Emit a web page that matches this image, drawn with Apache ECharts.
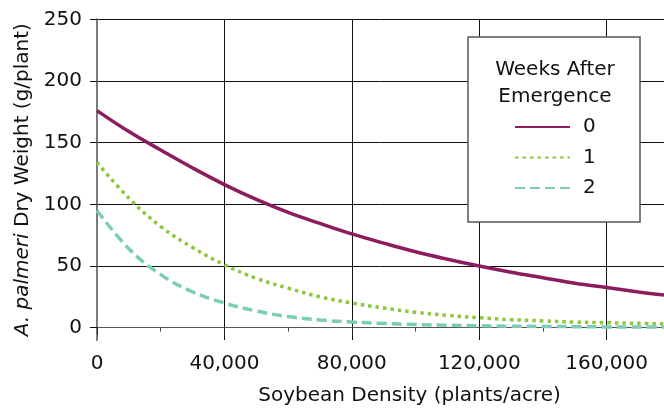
<!DOCTYPE html>
<html>
<head>
<meta charset="utf-8">
<script src="https://cdn.jsdelivr.net/npm/echarts@6/dist/echarts.min.js"></script>
<style>html,body{margin:0;padding:0;background:#fff}#c{width:664px;height:409px}</style>
</head>
<body>
<div id="c"></div>
<script>
var density = [0, 10000, 20000, 30000, 40000, 50000, 60000, 70000, 80000, 90000, 100000, 110000, 120000, 130000, 140000, 150000, 160000, 170000, 178000];
var week0 = [176, 159, 144, 129.5, 116, 104, 93.5, 84.5, 76, 68.5, 61.5, 55.5, 50, 45, 40.5, 36, 32.5, 29, 26.5];
var week1 = [134, 105, 82, 65, 51, 40, 32, 25, 20, 16, 12.5, 10, 8, 6.5, 5.5, 4.5, 4, 3.5, 3];
var week2 = [95, 64, 43, 29, 20, 13.5, 9, 6.2, 4.5, 3.4, 2.5, 2, 1.5, 1.2, 1, 0.8, 0.6, 0.5, 0.5];
var seriesNames = ['0', '1', '2'];
var yTicks = [0, 50, 100, 150, 200, 250];
var legendTitle = ['Weeks After', 'Emergence'];

function pairs(v) { return density.map(function (x, i) { return [x, v[i]]; }); }

var FONT = 'DejaVu Sans';
var chart = echarts.init(document.getElementById('c'));
chart.setOption({
  animation: false,
  textStyle: { fontFamily: FONT, color: '#111' },
  grid: { left: 97, right: 0, top: 19.3, bottom: 69, containLabel: false, outerBoundsMode: 'none' },
  xAxis: {
    type: 'value', min: 0, max: 178000, interval: 40000,
    name: 'Soybean Density (plants/acre)', nameLocation: 'middle', nameGap: 46,
    nameTextStyle: { fontSize: 20, color: '#111', fontFamily: FONT, padding: [0, 0, 0, 58] },
    axisLine: { show: true, lineStyle: { color: '#555', width: 1 } },
    axisTick: { show: true, length: 7, lineStyle: { color: '#222', width: 1 } },
    minorTick: { show: true, splitNumber: 2, length: 4, lineStyle: { color: '#444', width: 1 } },
    axisLabel: { fontSize: 20, color: '#111', margin: 14, showMaxLabel: false,
      formatter: function (v) { return v.toLocaleString('en-US'); } },
    splitLine: { show: true, lineStyle: { color: '#111', width: 1 } }
  },
  yAxis: {
    type: 'value', min: -10, max: 250,
    name: '{i|A. palmeri} Dry Weight (g/plant)', nameLocation: 'middle', nameGap: 63,
    nameTextStyle: { fontSize: 20, color: '#111', fontFamily: FONT,
      rich: { i: { fontStyle: 'italic', fontSize: 20, fontFamily: FONT, color: '#111' } } },
    axisLine: { show: true, lineStyle: { color: '#7a7a7a', width: 2 } },
    axisTick: { show: true, length: 7, customValues: yTicks, lineStyle: { color: '#111', width: 1 } },
    axisLabel: { fontSize: 20, color: '#111', margin: 15, customValues: yTicks },
    splitLine: { show: true, lineStyle: { color: '#111', width: 1 } }
  },
  legend: {
    orient: 'vertical', left: 514, top: 117, padding: 0, itemGap: 10.5,
    itemWidth: 55, itemHeight: 14, z: 20,
    itemStyle: { opacity: 0 },
    textStyle: { fontSize: 20, color: '#111', fontFamily: FONT, lineHeight: 20, padding: [0, 0, 0, 8] },
    data: seriesNames
  },
  graphic: [
    { type: 'rect', z: 10, shape: { x: 468, y: 37, width: 172, height: 185 },
      style: { fill: '#fff', stroke: '#555', lineWidth: 1.5 } },
    { type: 'text', z: 11, x: 555, y: 70, style: { text: legendTitle[0], font: '20px "DejaVu Sans"', fill: '#111', align: 'center', verticalAlign: 'middle' } },
    { type: 'text', z: 11, x: 555, y: 97, style: { text: legendTitle[1], font: '20px "DejaVu Sans"', fill: '#111', align: 'center', verticalAlign: 'middle' } }
  ],
  series: [
    { name: seriesNames[0], type: 'line', data: pairs(week0), smooth: 0.4, symbol: 'none',
      lineStyle: { color: '#8B1D5E', width: 3.5 }, itemStyle: { color: '#8B1D5E' } },
    { name: seriesNames[1], type: 'line', data: pairs(week1), smooth: 0.4, symbol: 'none',
      lineStyle: { color: '#8DC63F', width: 3.5, type: [3.5, 4] }, itemStyle: { color: '#8DC63F' } },
    { name: seriesNames[2], type: 'line', data: pairs(week2), smooth: 0.4, symbol: 'none',
      lineStyle: { color: '#7BCDB6', width: 3.5, type: [10, 5] }, itemStyle: { color: '#7BCDB6' } }
  ]
});
</script>
</body>
</html>
